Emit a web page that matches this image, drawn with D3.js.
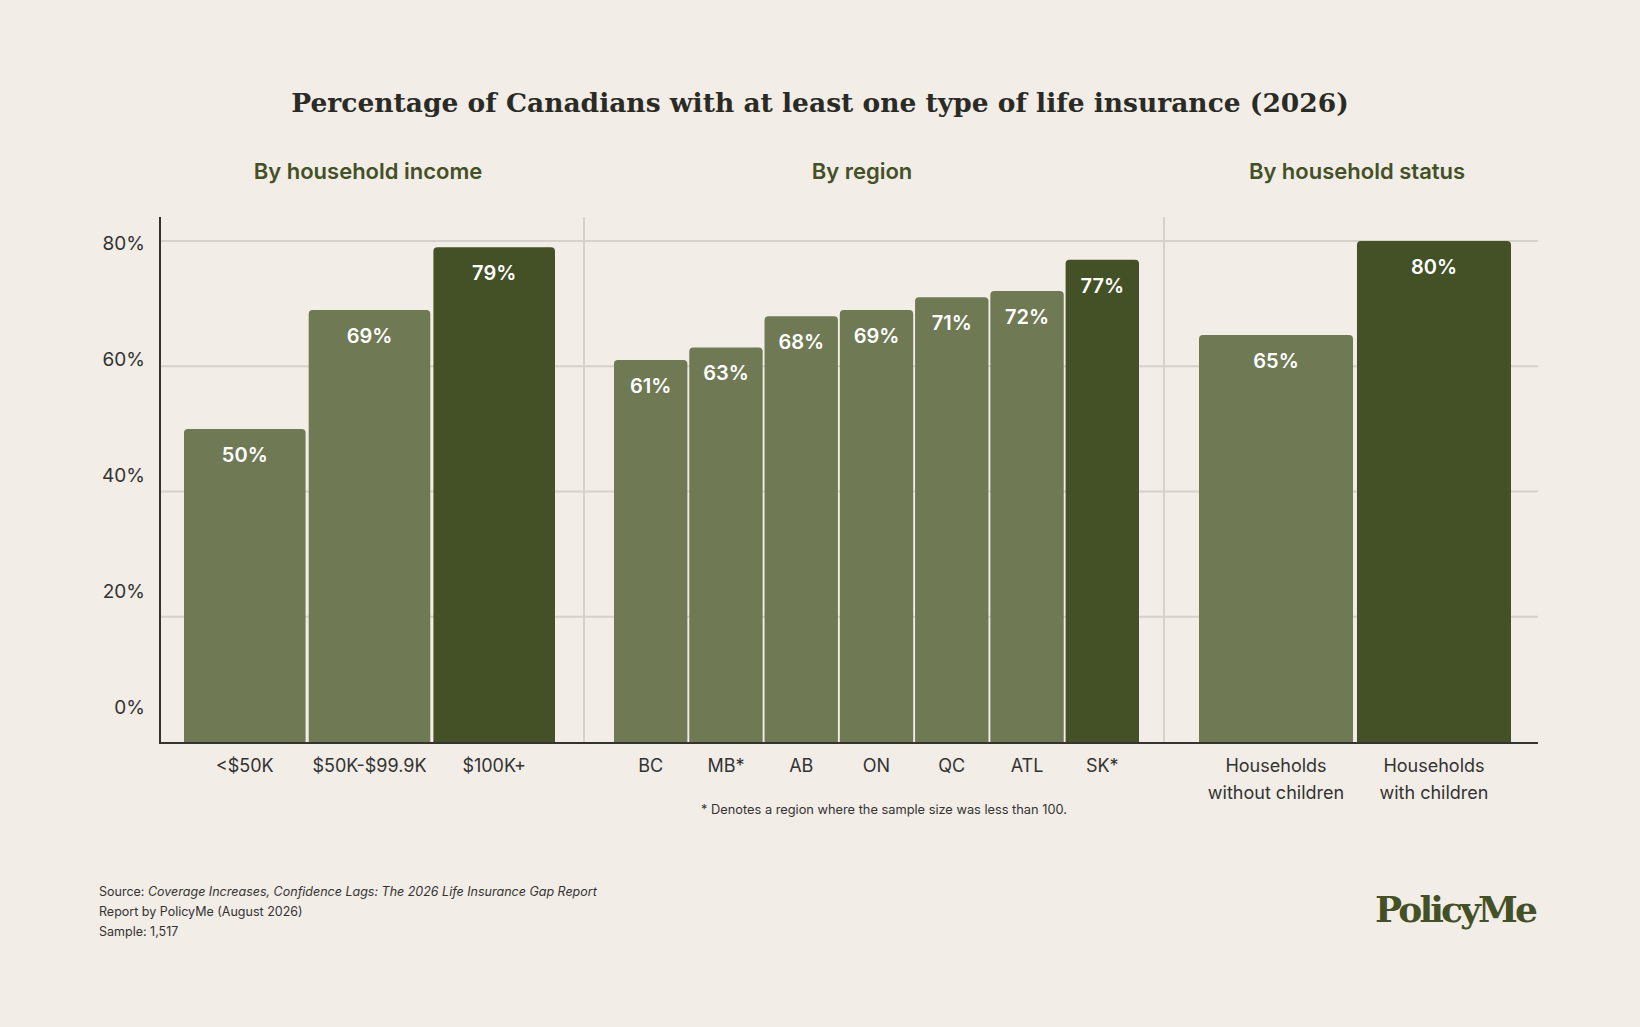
<!DOCTYPE html>
<html><head><meta charset="utf-8">
<script src="https://cdn.jsdelivr.net/npm/d3@7"></script>
<style>body{margin:0;background:#f2ede6;}svg{display:block;}</style>
</head><body>
<svg id="c" width="1640" height="1027"></svg>
<script>
const incomeCats=["<$50K","$50K-$99.9K","$100K+"];
const incomeVals=[50,69,79];
const regionCats=["BC","MB*","AB","ON","QC","ATL","SK*"];
const regionVals=[61,63,68,69,71,72,77];
const statusCats=[["Households","without children"],["Households","with children"]];
const statusVals=[65,80];
const tickVals=[0,20,40,60,80];

const svg=d3.select("#c");
const LIGHT="#6f7a55",DARK="#445126",GRID="#d6d2cb";
svg.append("rect").attr("width",1640).attr("height",1027).attr("fill","#f2ede6");
const ys=d3.scaleLinear().domain([0,80]).range([742,241]);
const yl=d3.scaleLinear().domain([0,80]).range([707,243]);
const x0=160,x1=1538;
svg.selectAll(".g").data(tickVals.filter(d=>d>0)).join("line")
 .attr("x1",x0).attr("x2",x1).attr("y1",d=>ys(d)).attr("y2",d=>ys(d))
 .attr("stroke",GRID).attr("stroke-width",2);
[584,1164].forEach(x=>svg.append("line").attr("x1",x).attr("x2",x).attr("y1",217).attr("y2",742).attr("stroke",GRID).attr("stroke-width",2));
svg.selectAll(".tl").data(tickVals).join("text").attr("x",145).attr("y",d=>yl(d)).attr("dy","0.35em")
 .attr("text-anchor","end").attr("font-family","Inter, sans-serif").attr("font-size",19).attr("fill","#333").text(d=>d+"%");

function panel(cats,vals,xs,xe,dark,title,titleX){
  const xb=d3.scaleBand().domain(d3.range(cats.length)).range([xs,xe]).paddingInner(0.025);
  const w=xb.bandwidth(),r=4;
  const g=svg.append("g");
  vals.forEach((v,i)=>{
    const x=xb(i),t=ys(v),b=ys(0);
    g.append("path").attr("fill",dark.includes(i)?DARK:LIGHT)
     .attr("d",`M${x},${b}V${t+r}Q${x},${t} ${x+r},${t}H${x+w-r}Q${x+w},${t} ${x+w},${t+r}V${b}Z`);
    g.append("text").attr("x",x+w/2).attr("y",t+33).attr("text-anchor","middle")
     .attr("font-family","Inter, sans-serif").attr("font-weight",600).attr("font-size",20).attr("fill","#fff").text(v+"%");
    const lines=Array.isArray(cats[i])?cats[i]:[cats[i]];
    lines.forEach((l,k)=>g.append("text").attr("x",x+w/2).attr("y",772+k*27).attr("text-anchor","middle")
     .attr("font-family","Inter, sans-serif").attr("font-size",18).attr("fill","#333").text(l));
  });
  svg.append("text").attr("x",titleX).attr("y",179).attr("text-anchor","middle")
   .attr("font-family","Inter, sans-serif").attr("font-weight",600).attr("font-size",22).attr("fill","#445126").text(title);
}
panel(incomeCats,incomeVals,184,555,[2],"By household income",368);
panel(regionCats,regionVals,614,1139,[6],"By region",862);
panel(statusCats,statusVals,1199,1511,[1],"By household status",1357);

svg.append("line").attr("x1",x0).attr("x2",x0).attr("y1",217).attr("y2",743).attr("stroke","#333").attr("stroke-width",2);
svg.append("line").attr("x1",x0-1).attr("x2",x1).attr("y1",743).attr("y2",743).attr("stroke","#333").attr("stroke-width",2);

svg.append("text").attr("x",820).attr("y",112).attr("text-anchor","middle")
 .attr("font-family","DejaVu Serif, serif").attr("font-weight","bold").attr("font-size",26.5).attr("fill","#2b2b26")
 .text("Percentage of Canadians with at least one type of life insurance (2026)");
svg.append("text").attr("x",884).attr("y",814).attr("text-anchor","middle")
 .attr("font-family","Inter, sans-serif").attr("font-size",12.8).attr("fill","#333")
 .text("* Denotes a region where the sample size was less than 100.");
const src=svg.append("g").attr("font-family","Inter, sans-serif").attr("font-size",12.5).attr("fill","#333");
const s1=src.append("text").attr("x",99).attr("y",896);
s1.append("tspan").text("Source: ");
s1.append("tspan").attr("font-style","italic").text("Coverage Increases, Confidence Lags: The 2026 Life Insurance Gap Report");
src.append("text").attr("x",99).attr("y",916).text("Report by PolicyMe (August 2026)");
src.append("text").attr("x",99).attr("y",936).text("Sample: 1,517");
svg.append("text").attr("x",1538).attr("y",922).attr("text-anchor","end")
 .attr("font-family","DejaVu Serif, serif").attr("font-weight","bold").attr("font-size",36).attr("fill",DARK)
 .attr("textLength",163).text("PolicyMe");
</script>
</body></html>
